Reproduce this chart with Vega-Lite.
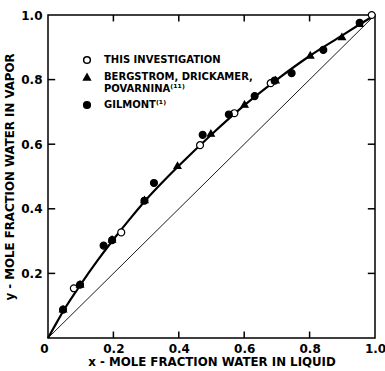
{
  "$schema": "https://vega.github.io/schema/vega-lite/v6.json",
  "width": 327,
  "height": 323,
  "autosize": {"type": "none"},
  "padding": {"left": 48, "top": 15, "right": 10, "bottom": 33},
  "background": "white",
  "config": {
    "view": {"stroke": "black", "strokeWidth": 1.5},
    "font": "DejaVu Sans",
    "axis": {"domain": false, "ticks": false, "grid": false, "labelColor": "black", "titleColor": "black", "labelFont": "DejaVu Sans", "labelFontSize": 12, "labelFontWeight": "bold", "titleFont": "DejaVu Sans", "titleFontSize": 11.8, "titleFontWeight": "bold"}
  },
  "datasets": {
    "diag": [{"x": 0, "y": 0}, {"x": 1, "y": 1}],
    "tickvals": [{"v": 0.2}, {"v": 0.4}, {"v": 0.6}, {"v": 0.8}],
    "curve": [
      {"x": 0, "y": 0}, {"x": 0.02, "y": 0.036}, {"x": 0.05, "y": 0.089}, {"x": 0.1, "y": 0.166},
      {"x": 0.15, "y": 0.238}, {"x": 0.2, "y": 0.305}, {"x": 0.25, "y": 0.368}, {"x": 0.3, "y": 0.428},
      {"x": 0.35, "y": 0.482}, {"x": 0.4, "y": 0.533}, {"x": 0.5, "y": 0.630}, {"x": 0.6, "y": 0.720},
      {"x": 0.7, "y": 0.800}, {"x": 0.8, "y": 0.873}, {"x": 0.9, "y": 0.937}, {"x": 0.95, "y": 0.969}, {"x": 1.0, "y": 1.0}
    ],
    "pts": [
      {"source": "this", "x": 0.079, "y": 0.154},
      {"source": "this", "x": 0.224, "y": 0.327},
      {"source": "this", "x": 0.465, "y": 0.597},
      {"source": "this", "x": 0.570, "y": 0.696},
      {"source": "this", "x": 0.681, "y": 0.789},
      {"source": "this", "x": 0.99, "y": 1.0},
      {"source": "bergstrom", "x": 0.046, "y": 0.090},
      {"source": "bergstrom", "x": 0.098, "y": 0.167},
      {"source": "bergstrom", "x": 0.196, "y": 0.306},
      {"source": "bergstrom", "x": 0.295, "y": 0.428},
      {"source": "bergstrom", "x": 0.396, "y": 0.534},
      {"source": "bergstrom", "x": 0.498, "y": 0.634},
      {"source": "bergstrom", "x": 0.601, "y": 0.724},
      {"source": "bergstrom", "x": 0.696, "y": 0.799},
      {"source": "bergstrom", "x": 0.802, "y": 0.876},
      {"source": "bergstrom", "x": 0.899, "y": 0.933},
      {"source": "bergstrom", "x": 0.953, "y": 0.974},
      {"source": "gilmont", "x": 0.046, "y": 0.088},
      {"source": "gilmont", "x": 0.098, "y": 0.165},
      {"source": "gilmont", "x": 0.170, "y": 0.286},
      {"source": "gilmont", "x": 0.196, "y": 0.303},
      {"source": "gilmont", "x": 0.295, "y": 0.425},
      {"source": "gilmont", "x": 0.324, "y": 0.480},
      {"source": "gilmont", "x": 0.473, "y": 0.629},
      {"source": "gilmont", "x": 0.553, "y": 0.692},
      {"source": "gilmont", "x": 0.632, "y": 0.749},
      {"source": "gilmont", "x": 0.693, "y": 0.797},
      {"source": "gilmont", "x": 0.745, "y": 0.820},
      {"source": "gilmont", "x": 0.842, "y": 0.892},
      {"source": "gilmont", "x": 0.953, "y": 0.976}
    ]
  },
  "layer": [
    {
      "data": {"name": "diag"},
      "mark": {"type": "line", "color": "black", "strokeWidth": 0.9},
      "encoding": {
        "x": {"field": "x", "type": "quantitative", "scale": {"domain": [0, 1], "nice": false, "zero": false},
          "axis": {"orient": "bottom", "values": [0, 0.2, 0.4, 0.6, 0.8, 1.0], "labelPadding": 5,
            "labelExpr": "datum.value == 0 ? '0' : format(datum.value, '.1f')",
            "labelAlign": {"expr": "datum.value == 0 ? 'right' : 'center'"},
            "labelFlush": false,
            "title": "x - MOLE FRACTION WATER IN LIQUID", "titlePadding": 2}},
        "y": {"field": "y", "type": "quantitative", "scale": {"domain": [0, 1], "nice": false, "zero": false},
          "axis": {"orient": "left", "values": [0.2, 0.4, 0.6, 0.8, 1.0], "labelPadding": 6,
            "labelExpr": "format(datum.value, '.1f')", "labelFlush": false,
            "title": "y - MOLE FRACTION WATER IN VAPOR", "titlePadding": 5}}
      }
    },
    {
      "data": {"name": "tickvals"},
      "mark": {"type": "rule", "color": "black", "strokeWidth": 1.5},
      "encoding": {"x": {"field": "v", "type": "quantitative"}, "y": {"datum": 0}, "y2": {"datum": 0.02}}
    },
    {
      "data": {"name": "tickvals"},
      "mark": {"type": "rule", "color": "black", "strokeWidth": 1.5},
      "encoding": {"x": {"field": "v", "type": "quantitative"}, "y": {"datum": 1}, "y2": {"datum": 0.98}}
    },
    {
      "data": {"name": "tickvals"},
      "mark": {"type": "rule", "color": "black", "strokeWidth": 1.5},
      "encoding": {"y": {"field": "v", "type": "quantitative"}, "x": {"datum": 0}, "x2": {"datum": 0.022}}
    },
    {
      "data": {"name": "tickvals"},
      "mark": {"type": "rule", "color": "black", "strokeWidth": 1.5},
      "encoding": {"y": {"field": "v", "type": "quantitative"}, "x": {"datum": 1}, "x2": {"datum": 0.978}}
    },
    {
      "data": {"name": "curve"},
      "mark": {"type": "line", "color": "black", "strokeWidth": 2.2, "interpolate": "monotone"},
      "encoding": {
        "x": {"field": "x", "type": "quantitative"},
        "y": {"field": "y", "type": "quantitative"}
      }
    },
    {
      "data": {"name": "pts"},
      "mark": {"type": "point", "filled": true, "stroke": "black", "strokeWidth": 1.2, "opacity": 1},
      "encoding": {
        "x": {"field": "x", "type": "quantitative"},
        "y": {"field": "y", "type": "quantitative"},
        "shape": {"field": "source", "type": "nominal",
          "scale": {"domain": ["this", "bergstrom", "gilmont"], "range": ["circle", "triangle-up", "circle"]},
          "legend": {"title": null, "orient": "none", "legendX": 34, "legendY": 40, "padding": 0,
            "labelExpr": "datum.value == 'this' ? 'THIS INVESTIGATION' : datum.value == 'bergstrom' ? ['BERGSTROM, DRICKAMER,', 'POVARNINA⁽¹¹⁾'] : 'GILMONT⁽¹⁾'",
            "labelFont": "DejaVu Sans", "labelFontWeight": "bold", "labelFontSize": 10, "labelColor": "black",
            "symbolSize": 45, "labelOffset": 12, "rowPadding": 4,
            "encode": {"symbols": {"update": {"stroke": {"value": "black"}, "strokeWidth": {"value": 1.2}}}}}},
        "fill": {"field": "source", "type": "nominal",
          "scale": {"domain": ["this", "bergstrom", "gilmont"], "range": ["white", "black", "black"]}},
        "size": {"value": 48}
      }
    }
  ]
}
